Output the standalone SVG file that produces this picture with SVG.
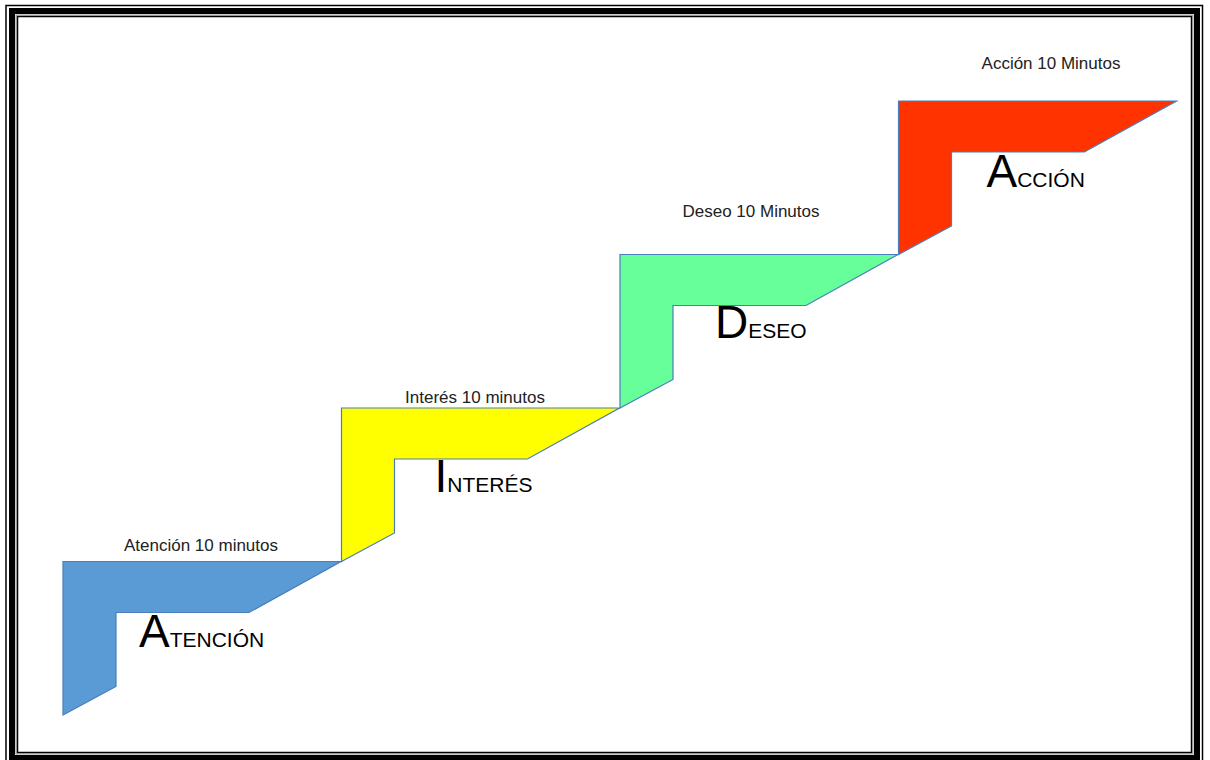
<svg xmlns="http://www.w3.org/2000/svg" width="1210" height="760" viewBox="0 0 1210 760">
<style>
.frame{fill:none;stroke:#000}
.step{stroke:#4A7EBB;stroke-width:1.2}
.cap{font-family:"Liberation Sans",Arial,sans-serif;font-size:17px;fill:#222;text-anchor:middle}
.big{font-family:"Liberation Sans",Arial,sans-serif;fill:#000}
.b{font-size:46px}
.s{font-size:21px}
</style>
<defs>
<polygon id="stair" points="0,0 278,0 186,51 53,51 53,125 0,153.5"/>
</defs>
<rect width="1210" height="760" fill="#fff"/>
<g id="frame">
<rect class="frame" x="6" y="5.5" width="1196.5" height="758" stroke-width="1.5"/>
<rect class="frame" x="12" y="11" width="1185" height="747" stroke-width="6"/>
<rect x="16" y="15" width="1177" height="739" fill="none" stroke="#999" stroke-width="1"/>
<rect class="frame" x="17.5" y="16.5" width="1174" height="736" stroke-width="1.5"/>
</g>
<g id="connectors"></g>
<g id="atencion">
<use href="#stair" x="63" y="561.5" class="step" fill="#5B9BD5"/>
<text class="cap" x="201" y="551">Atención 10 minutos</text>
<text class="big" x="139" y="646.7"><tspan class="b">A</tspan><tspan class="s">TENCIÓN</tspan></text>
</g>
<g id="interes">
<use href="#stair" x="341.5" y="408" class="step" fill="#FFFF00"/>
<text class="cap" x="475" y="402.7">Interés 10 minutos</text>
<text class="big" x="434.5" y="492.3"><tspan class="b">I</tspan><tspan class="s">NTERÉS</tspan></text>
</g>
<g id="deseo">
<use href="#stair" x="620" y="254.5" class="step" fill="#66FF99"/>
<text class="cap" x="751" y="216.7">Deseo 10 Minutos</text>
<text class="big" x="715" y="338.3"><tspan class="b">D</tspan><tspan class="s">ESEO</tspan></text>
</g>
<g id="accion">
<use href="#stair" x="898.5" y="101" class="step" fill="#FF3300"/>
<text class="cap" x="1051" y="69.3">Acción 10 Minutos</text>
<text class="big" x="986.5" y="186.7"><tspan class="b">A</tspan><tspan class="s">CCIÓN</tspan></text>
</g>
</svg>
